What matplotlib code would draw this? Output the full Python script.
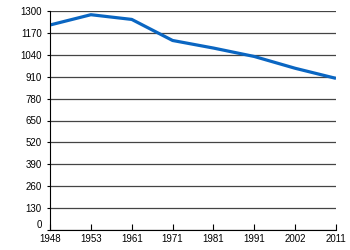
import matplotlib.pyplot as plt

plt.rcParams['font.family'] = ['Liberation Sans', 'DejaVu Sans']

# 数据
years = ['1948', '1953', '1961', '1971', '1981', '1991', '2002', '2011']
values = [1217, 1278, 1250, 1125, 1080, 1030, 960, 900]
yticks = list(range(0, 1301, 130))

fig = plt.figure(figsize=(3.5, 2.5), dpi=100)
ax = fig.add_axes([0.143, 0.08, 0.817, 0.876])

ax.plot(range(len(years)), values, color='#0a66c2', linewidth=2.3, solid_capstyle='butt')

ax.set_xlim(0, len(years) - 1)
ax.set_ylim(0, 1300)
ax.set_xticks(range(len(years)))
ax.set_xticklabels(years)
ax.set_yticks(yticks)
ax.yaxis.grid(True, color='#444444', linewidth=0.9)
ax.set_axisbelow(True)

for s in ['top', 'right']:
    ax.spines[s].set_visible(False)
ax.spines['left'].set_color('black')
ax.spines['bottom'].set_color('black')
ax.tick_params(axis='x', direction='in', length=4, labelsize=7, pad=3)
ax.tick_params(axis='y', direction='out', length=2, labelsize=7, pad=4)
ax.get_yticklabels()[0].set_verticalalignment('bottom')

plt.savefig('out.png', dpi=100)
